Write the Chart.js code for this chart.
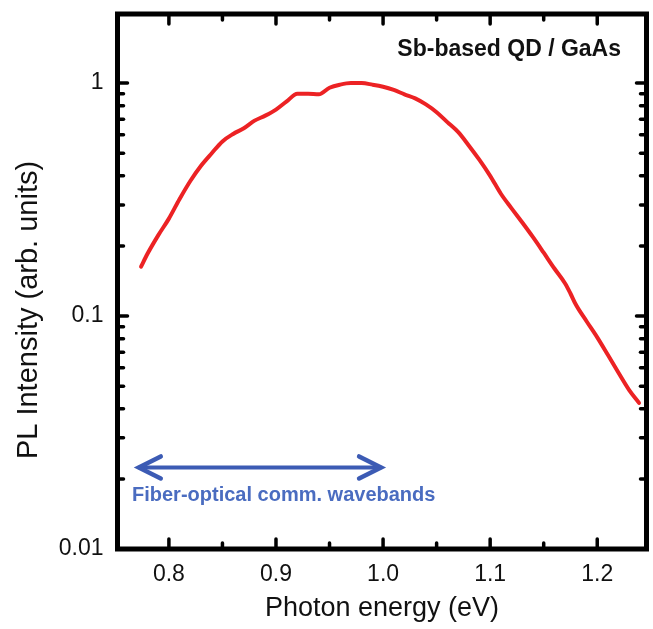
<!DOCTYPE html>
<html lang="en">
<head>
<meta charset="UTF-8">
<title>PL spectrum</title>
<script src="https://cdn.jsdelivr.net/npm/chart.js"></script>
<style>
  html, body { margin: 0; padding: 0; background: #fff; }
  #wrap { width: 653px; height: 629px; }
</style>
</head>
<body>
<div id="wrap"><canvas id="plChart" width="653" height="629"></canvas></div>
<script>
  // photon energy (eV) and normalised PL intensity
  const energy = [0.774, 0.78, 0.79, 0.80, 0.81, 0.82, 0.83, 0.84, 0.85, 0.86, 0.87, 0.88, 0.89,
    0.90, 0.91, 0.92, 0.93, 0.94, 0.95, 0.96, 0.97, 0.98, 0.99, 1.00, 1.01, 1.02, 1.03, 1.04,
    1.05, 1.06, 1.07, 1.08, 1.09, 1.10, 1.11, 1.12, 1.13, 1.14, 1.15, 1.16, 1.17, 1.175, 1.18,
    1.19, 1.20, 1.21, 1.22, 1.23, 1.239];
  const intensity = [0.163, 0.185, 0.222, 0.262, 0.318, 0.380, 0.442, 0.500, 0.562, 0.605, 0.640,
    0.690, 0.725, 0.770, 0.835, 0.900, 0.900, 0.895, 0.955, 0.985, 1.00, 1.00, 0.985, 0.965,
    0.935, 0.895, 0.860, 0.810, 0.750, 0.680, 0.617, 0.540, 0.468, 0.400, 0.335, 0.290, 0.252,
    0.218, 0.187, 0.160, 0.138, 0.125, 0.112, 0.095, 0.081, 0.068, 0.057, 0.048, 0.0424];

  const xTickLabels = ['0.8', '0.9', '1.0', '1.1', '1.2'];
  const yTickLabels = ['0.01', '0.1', '1'];

  // the fiber-optical band arrow, in eV / intensity units
  const bandEnds = [0.77, 1.0];
  const bandLevel = 0.0224;

  const xMin = 0.752, xMax = 1.246;
  const yMin = 0.01, yMax = 1.98;
  const font = "'Liberation Sans', Arial, sans-serif";

  const xMajor = xTickLabels.map(Number);
  const yMajor = yTickLabels.map(Number);

  function isMajor(list, v) {
    return list.some(m => Math.abs(m - v) < 1e-9 * Math.max(1, m) + 1e-12);
  }

  const framePlugin = {
    id: 'frame',
    afterDatasetsDraw(chart) {
      const c = chart.ctx;
      const a = chart.chartArea;
      const sx = chart.scales.x, sy = chart.scales.y;
      c.save();
      c.strokeStyle = '#000';
      c.lineCap = 'round';
      // inward ticks, all four sides
      c.lineWidth = 3.5;
      sx.ticks.forEach(t => {
        const px = sx.getPixelForValue(t.value);
        const len = isMajor(xMajor, t.value) ? 10 : 6;
        c.beginPath(); c.moveTo(px, a.bottom); c.lineTo(px, a.bottom - len); c.stroke();
        c.beginPath(); c.moveTo(px, a.top); c.lineTo(px, a.top + len); c.stroke();
      });
      sy.ticks.forEach(t => {
        const py = sy.getPixelForValue(t.value);
        const len = isMajor(yMajor, t.value) ? 10 : 6;
        c.beginPath(); c.moveTo(a.left, py); c.lineTo(a.left + len, py); c.stroke();
        c.beginPath(); c.moveTo(a.right, py); c.lineTo(a.right - len, py); c.stroke();
      });
      c.lineCap = 'butt';
      c.lineWidth = 5;
      c.strokeRect(a.left, a.top, a.right - a.left, a.bottom - a.top);

      // arrow
      const x0 = sx.getPixelForValue(bandEnds[0]);
      const x1 = sx.getPixelForValue(bandEnds[1]);
      const ay = sy.getPixelForValue(bandLevel);
      c.strokeStyle = '#3c5bb4';
      c.lineWidth = 4;
      c.lineCap = 'round';
      c.beginPath(); c.moveTo(x0 + 3, ay); c.lineTo(x1 - 3, ay); c.stroke();
      c.lineJoin = 'miter';
      c.lineWidth = 4.5;
      c.beginPath(); c.moveTo(x0 + 24, ay - 11); c.lineTo(x0 + 2, ay); c.lineTo(x0 + 24, ay + 11); c.stroke();
      c.beginPath(); c.moveTo(x1 - 24, ay - 11); c.lineTo(x1 - 2, ay); c.lineTo(x1 - 24, ay + 11); c.stroke();

      // texts
      c.fillStyle = '#4a6cc0';
      c.font = 'bold 20px ' + font;
      c.textAlign = 'left';
      c.textBaseline = 'middle';
      c.fillText('Fiber-optical comm. wavebands', 132, 495);

      c.fillStyle = '#111';
      c.font = 'bold 23px ' + font;
      c.textAlign = 'right';
      c.fillText('Sb-based QD / GaAs', 621, 50);

      c.font = '27px ' + font;
      c.textAlign = 'center';
      c.fillText('Photon energy (eV)', (a.left + a.right) / 2, 609);

      c.font = '29px ' + font;
      c.translate(29, 310);
      c.rotate(-Math.PI / 2);
      c.fillText('PL Intensity (arb. units)', 0, 0);
      c.restore();
    }
  };

  const ctx = document.getElementById('plChart');
  const plChart = new Chart(ctx, {
    type: 'line',
    data: {
      datasets: [{
        label: 'PL',
        data: energy.map((e, i) => ({ x: e, y: intensity[i] })),
        borderColor: '#ec2224',
        borderWidth: 4,
        borderJoinStyle: 'round',
        borderCapStyle: 'round',
        pointRadius: 0,
        cubicInterpolationMode: 'monotone',
        fill: false
      }]
    },
    options: {
      responsive: false,
      animation: false,
      devicePixelRatio: 1,
      layout: { padding: { left: 0, top: 14, right: 6.5, bottom: 0 } },
      plugins: { legend: { display: false }, tooltip: { enabled: false } },
      scales: {
        x: {
          type: 'linear',
          min: xMin,
          max: xMax,
          afterBuildTicks(axis) {
            const t = [];
            xMajor.forEach((m, i) => {
              t.push({ value: m });
              if (i < xMajor.length - 1) t.push({ value: (m + xMajor[i + 1]) / 2 });
            });
            axis.ticks = t;
          },
          afterFit(axis) {
            axis.height = 80;
            axis.paddingLeft = 0; axis.paddingRight = 0;
          },
          grid: { display: false, drawTicks: false },
          border: { display: false },
          ticks: {
            autoSkip: false,
            maxRotation: 0,
            padding: 12,
            color: '#111',
            font: { family: font, size: 23 },
            callback(v) {
              const i = xMajor.findIndex(m => Math.abs(m - v) < 1e-9);
              return i >= 0 ? xTickLabels[i] : '';
            }
          }
        },
        y: {
          type: 'logarithmic',
          min: yMin,
          max: yMax,
          afterBuildTicks(axis) {
            const t = [];
            yMajor.forEach(d => {
              t.push({ value: d });
              for (let k = 2; k <= 9; k++) if (d * k < yMax) t.push({ value: d * k });
            });
            axis.ticks = t;
          },
          afterFit(axis) {
            axis.width = 117.5;
            axis.paddingTop = 0; axis.paddingBottom = 0;
          },
          grid: { display: false, drawTicks: false },
          border: { display: false },
          ticks: {
            autoSkip: false,
            padding: 14,
            color: '#111',
            font: { family: font, size: 23 },
            callback(v) {
              const i = yMajor.findIndex(m => Math.abs(m - v) < 1e-9 * m);
              return i >= 0 ? yTickLabels[i] : '';
            }
          }
        }
      }
    },
    plugins: [framePlugin]
  });
</script>
</body>
</html>
